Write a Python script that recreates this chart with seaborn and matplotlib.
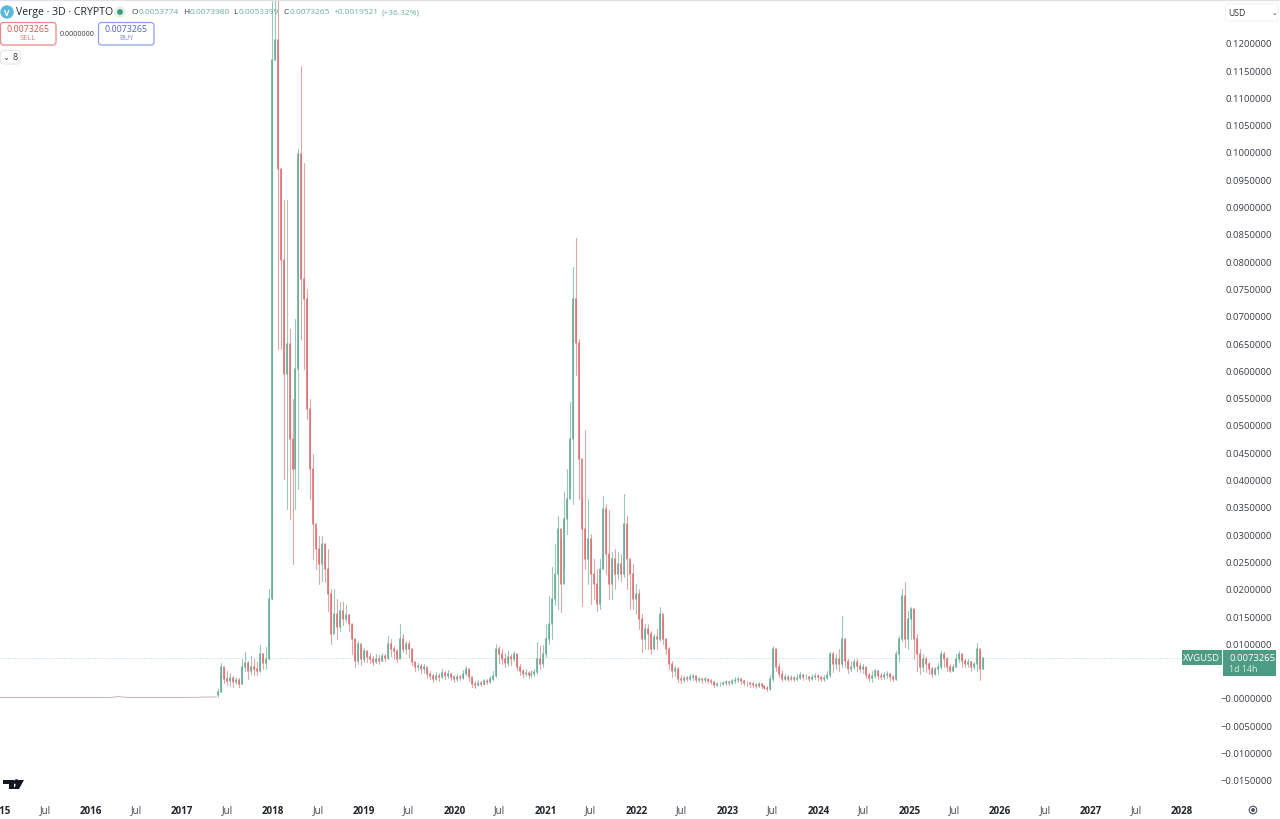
import pandas as pd
import seaborn as sns
import matplotlib.pyplot as plt
from matplotlib.patches import FancyBboxPatch, Rectangle, Polygon, Circle
from matplotlib.transforms import IdentityTransform

sns.set_style('white')
plt.rcParams['font.family'] = ['Open Sans', 'DejaVu Sans']

# %% data, prices in units of 0.0001 USD
early_dates = ['2015-01-01', '2016-01-15', '2016-03-20', '2016-04-10', '2016-04-20', '2016-05-01', '2016-06-01', '2017-01-01', '2017-05-20']
early_price = [1, 1, 1, 2, 3, 2, 1, 1, 2]

first_candle = '2017-05-25'
first_open = 5
closes = [11, 57, 35, 31, 37, 29, 33, 26, 57, 64,
          49, 57, 53, 49, 81, 64, 71, 181, 1169, 1206,
          968, 803, 593, 648, 474, 419, 602, 996, 767, 730,
          529, 419, 318, 273, 245, 282, 236, 190, 117, 154,
          130, 159, 145, 152, 135, 108, 68, 99, 71, 86,
          75, 71, 66, 71, 68, 77, 73, 99, 90, 86,
          71, 108, 90, 99, 90, 66, 57, 59, 53, 57,
          44, 40, 35, 40, 38, 46, 40, 44, 38, 35,
          38, 37, 44, 53, 38, 26, 24, 27, 26, 31,
          29, 35, 40, 90, 81, 71, 64, 75, 71, 81,
          57, 49, 44, 46, 42, 44, 48, 71, 62, 81,
          108, 135, 181, 227, 309, 209, 328, 364, 474, 730,
          650, 437, 309, 254, 291, 227, 209, 172, 236, 346,
          264, 209, 254, 227, 245, 227, 318, 254, 227, 181,
          190, 145, 108, 126, 117, 90, 112, 108, 154, 108,
          90, 62, 49, 53, 35, 33, 37, 35, 38, 40,
          33, 35, 33, 35, 31, 29, 24, 26, 26, 27,
          29, 27, 31, 33, 35, 31, 27, 27, 26, 24,
          22, 26, 22, 18, 16, 35, 90, 57, 44, 35,
          38, 35, 37, 35, 37, 42, 38, 38, 35, 38,
          40, 38, 35, 37, 42, 81, 62, 71, 62, 108,
          68, 53, 57, 66, 59, 53, 57, 42, 37, 40,
          49, 40, 38, 42, 44, 38, 35, 81, 108, 187,
          108, 145, 163, 108, 81, 57, 71, 62, 53, 44,
          53, 57, 81, 71, 57, 49, 57, 71, 81, 68,
          62, 66, 57, 62, 90, 53, 73]
highs = [16, 64, 53, 49, 46, 40, 38, 37, 71, 84,
         68, 77, 71, 66, 97, 82, 93, 199, 1300, 1300,
         1300, 968, 913, 913, 675, 547, 694, 1005, 1158, 979,
         749, 547, 447, 309, 296, 296, 282, 273, 199, 199,
         181, 176, 176, 170, 154, 135, 108, 104, 91, 91,
         84, 82, 77, 81, 79, 82, 81, 113, 108, 95,
         90, 135, 117, 104, 104, 90, 66, 64, 62, 62,
         53, 49, 44, 48, 46, 53, 49, 51, 46, 42,
         44, 42, 51, 59, 49, 35, 31, 33, 31, 35,
         35, 40, 49, 99, 95, 90, 82, 86, 81, 86,
         81, 62, 53, 53, 49, 51, 53, 102, 95, 97,
         135, 187, 240, 282, 333, 291, 377, 419, 542, 789,
         843, 657, 364, 490, 364, 300, 254, 236, 254, 370,
         355, 344, 267, 273, 267, 263, 373, 333, 249, 245,
         209, 199, 154, 135, 135, 123, 117, 126, 167, 145,
         108, 93, 68, 59, 57, 42, 40, 40, 44, 44,
         40, 38, 37, 38, 35, 35, 31, 29, 29, 31,
         33, 31, 35, 38, 38, 35, 33, 31, 29, 29,
         27, 29, 27, 24, 22, 42, 95, 90, 64, 49,
         44, 42, 42, 40, 44, 48, 44, 44, 40, 44,
         46, 44, 40, 42, 49, 84, 84, 81, 90, 150,
         108, 71, 68, 71, 71, 64, 62, 57, 46, 49,
         53, 51, 46, 48, 49, 46, 42, 86, 113, 199,
         212, 159, 167, 163, 117, 90, 81, 75, 66, 57,
         57, 64, 86, 84, 75, 62, 62, 81, 86, 81,
         71, 71, 68, 66, 100, 86, 74]
lows = [2, 11, 27, 24, 22, 20, 26, 20, 26, 49,
        35, 44, 42, 42, 48, 53, 53, 71, 181, 1169,
        639, 639, 401, 346, 328, 245, 346, 382, 657, 602,
        511, 364, 254, 236, 209, 214, 212, 159, 99, 135,
        108, 123, 134, 139, 123, 81, 57, 62, 60, 66,
        66, 64, 60, 64, 62, 68, 68, 71, 77, 71,
        66, 75, 84, 81, 75, 60, 49, 51, 46, 46,
        37, 35, 29, 33, 31, 37, 35, 37, 33, 29,
        31, 33, 35, 42, 31, 20, 18, 22, 22, 24,
        26, 27, 33, 38, 64, 62, 57, 59, 60, 68,
        51, 42, 38, 40, 37, 38, 40, 44, 53, 57,
        75, 99, 108, 170, 163, 157, 236, 300, 382, 355,
        592, 364, 168, 236, 209, 172, 181, 159, 163, 236,
        227, 181, 181, 199, 218, 214, 221, 199, 163, 163,
        154, 126, 84, 90, 90, 81, 90, 90, 104, 99,
        81, 53, 38, 40, 29, 27, 29, 31, 33, 33,
        29, 29, 27, 29, 27, 26, 20, 22, 22, 24,
        24, 24, 26, 27, 29, 26, 24, 22, 20, 20,
        18, 20, 18, 16, 13, 15, 31, 49, 38, 31,
        33, 31, 33, 31, 33, 35, 33, 35, 31, 33,
        35, 33, 31, 31, 35, 38, 48, 53, 49, 57,
        57, 46, 49, 53, 49, 48, 46, 37, 31, 29,
        37, 35, 35, 35, 37, 33, 31, 33, 68, 104,
        93, 90, 108, 71, 49, 44, 49, 48, 44, 38,
        42, 44, 53, 57, 49, 48, 49, 57, 66, 57,
        57, 57, 49, 53, 49, 33, 53]

price_ticks = [-0.015, -0.010, -0.005, 0, 0.010, 0.015, 0.020, 0.025, 0.030, 0.035, 0.040, 0.045,
               0.050, 0.055, 0.060, 0.065, 0.070, 0.075, 0.080, 0.085, 0.090, 0.095,
               0.100, 0.105, 0.110, 0.115, 0.120]
years = [2015, 2016, 2017, 2018, 2019, 2020, 2021, 2022, 2023, 2024, 2025, 2026, 2027, 2028]
last_price = 0.0073265

GREEN = '#5fa593'
GREEN_WICK = '#9cc8bb'
RED = '#d9686b'
RED_WICK = '#e6a5a5'

# %% build long tables, one two-point line per candle
dates = pd.date_range(first_candle, periods=len(closes), freq='12D')
opens = [first_open] + closes[:-1]
wick_rows = []
body_rows = []
for i, d in enumerate(dates):
    side = 'up' if closes[i] >= opens[i] else 'down'
    wick_rows += [(i, d, highs[i] * 1e-4, side), (i, d, lows[i] * 1e-4, side)]
    body_rows += [(i, d, opens[i] * 1e-4, side), (i, d, closes[i] * 1e-4, side)]
wicks = pd.DataFrame(wick_rows, columns=['candle', 'date', 'price', 'side'])
bodies = pd.DataFrame(body_rows, columns=['candle', 'date', 'price', 'side'])
early = pd.DataFrame({'date': pd.to_datetime(early_dates), 'price': [p * 1e-4 for p in early_price]})

# %% chart
fig = plt.figure(figsize=(12.8, 8.2), dpi=100)
ax = fig.add_axes([0, 20 / 820, 1222 / 1280, 800 / 820])

ax.axhline(last_price, color='#b5dacd', lw=0.7, ls=(0, (1, 1.5)), zorder=1)
sns.lineplot(data=early, x='date', y='price', color='#bfa8a2', lw=0.6, ax=ax)
sns.lineplot(data=wicks, x='date', y='price', units='candle', estimator=None, hue='side',
             palette={'up': GREEN_WICK, 'down': RED_WICK}, lw=0.8, legend=False, ax=ax)
sns.lineplot(data=bodies, x='date', y='price', units='candle', estimator=None, hue='side',
             palette={'up': GREEN, 'down': RED}, lw=1.1, legend=False, ax=ax)

# x: 91 px a year with 2015 at x=-1, y: 27.3 px per 0.005 with 0 at y=699
ax.set_xlim(pd.Timestamp('2015-01-05'), pd.Timestamp('2015-01-01') + pd.Timedelta(days=1223 / 91 * 365.25))
ax.set_ylim((699 - 800) * 1.8315e-4, 699 * 1.8315e-4)
ax.set_xlabel('')
ax.set_ylabel('')
sns.despine(ax=ax, left=True, bottom=True, right=True, top=True)

tick_dates = []
tick_names = []
for y in years:
    tick_dates += [pd.Timestamp(f'{y}-01-01'), pd.Timestamp(f'{y}-07-01')]
    tick_names += [str(y), 'Jul']
ax.set_xticks(tick_dates[:-1])
ax.set_xticklabels(tick_names[:-1], fontsize=7, color='#3a3e4a')
for lab, name in zip(ax.get_xticklabels(), tick_names):
    if name != 'Jul':
        lab.set_fontweight('bold')
        lab.set_color('#20232c')
ax.tick_params(axis='x', length=0, pad=4)
for lab in ax.get_xticklabels():
    lab.set_clip_on(False)

ax.yaxis.tick_right()
ax.set_yticks(price_ticks)
ax.set_yticklabels([('\u2212' if t <= 0 else '') + f'{abs(t):.7f}' for t in price_ticks], fontsize=6.8, color='#3a3e4a', ha='right')
ax.tick_params(axis='y', length=0, pad=36)


def px_text(x, y, s, **kw):
    kw.setdefault('fontsize', 6.0)
    kw.setdefault('va', 'center')
    return fig.text(x / 1280, 1 - y / 820, s, **kw)


def px_box(x0, y0, x1, y1, **kw):
    fig.add_artist(FancyBboxPatch((x0, 820 - y1), x1 - x0, y1 - y0, boxstyle='round,pad=0,rounding_size=3',
                                  transform=IdentityTransform(), **kw))


# %% header
fig.add_artist(Rectangle((0, 819), 1280, 1, transform=IdentityTransform(), color='#dfe1e6'))
fig.add_artist(Circle((7, 807), 6, transform=IdentityTransform(), color='#5bb8dc'))
px_text(7, 13, 'V', color='white', fontsize=6, ha='center', fontweight='bold')
px_text(16, 13, 'Verge \u00b7 3D \u00b7 CRYPTO', color='#1f2430', fontsize=7.6)
fig.add_artist(Circle((120, 807), 5, transform=IdentityTransform(), color='#e3f1ec'))
fig.add_artist(Circle((120, 807), 2.2, transform=IdentityTransform(), color='#3f9a80'))
val = '#6aae9c'
for x, s, c in [(132, 'O', '#333a46'), (138.5, '0.0053774', val), (183, 'H', '#333a46'), (189.5, '0.0073980', val),
                (233, 'L', '#333a46'), (239, '0.0053399', val), (283, 'C', '#333a46'), (289.5, '0.0073265', val),
                (334, '+0.0019521', val), (382, '(+36.32%)', val)]:
    px_text(x, 13, s, color=c)

px_box(0.5, 23.5, 56, 46, fc='white', ec='#e58a8a', lw=0.9)
px_text(28, 30, '0.0073265', color='#d9534f', ha='center', fontsize=6.4)
px_text(28, 39, 'SELL', color='#e07b78', ha='center', fontsize=5.4)
px_text(77.5, 34, '0.0000000', color='#30343e', ha='center', fontsize=5.1)
px_box(98.5, 23.5, 154, 46, fc='white', ec='#8f9ee8', lw=0.9)
px_text(126, 30, '0.0073265', color='#4f63d2', ha='center', fontsize=6.4)
px_text(126, 39, 'BUY', color='#7a8ae0', ha='center', fontsize=5.4)
px_box(0.5, 51.5, 20, 65, fc='white', ec='#e6e7eb', lw=0.8)
px_text(5.5, 57, '\u2304', color='#333a46', ha='center', fontsize=6, family='DejaVu Sans')
px_text(15.5, 58, '8', color='#333a46', ha='center', fontsize=6.4)

# %% currency box, price label, logo, settings icon
px_box(1225.5, 5, 1278, 22, fc='white', ec='#f0f1f3', lw=0.8)
px_text(1228, 13, 'USD', color='#30343e', fontsize=6.2)
px_text(1277, 13, '\u2304', color='#30343e', ha='right', fontsize=5, family='DejaVu Sans')

fig.add_artist(Rectangle((1182, 820 - 666), 40, 15, transform=IdentityTransform(), color='#4c9b83', lw=0))
fig.add_artist(Rectangle((1223, 820 - 677), 53, 26, transform=IdentityTransform(), color='#4c9b83', lw=0))
px_text(1202, 658.5, 'XVGUSD', color='white', ha='center', fontsize=6.8)
px_text(1229, 658.5, '0.0073265', color='white', fontsize=6.8)
px_text(1229, 670, '1d 14h', color='#d8ece5', fontsize=6.4)

logo = '#131722'
fig.add_artist(Polygon([(3, 39), (14, 39), (14, 30), (9, 30), (9, 35), (3, 35)], transform=IdentityTransform(), color=logo, lw=0))
fig.add_artist(Circle((16.5, 37), 2, transform=IdentityTransform(), color=logo))
fig.add_artist(Polygon([(18.5, 39), (24, 39), (19, 30), (13.5, 30)], transform=IdentityTransform(), color=logo, lw=0))

fig.add_artist(Circle((1253, 9), 3.8, transform=IdentityTransform(), fc='white', ec='#4a4f5c', lw=0.8))
fig.add_artist(Circle((1253, 9), 1.2, transform=IdentityTransform(), color='#4a4f5c'))

plt.savefig('out.png', dpi=100)
